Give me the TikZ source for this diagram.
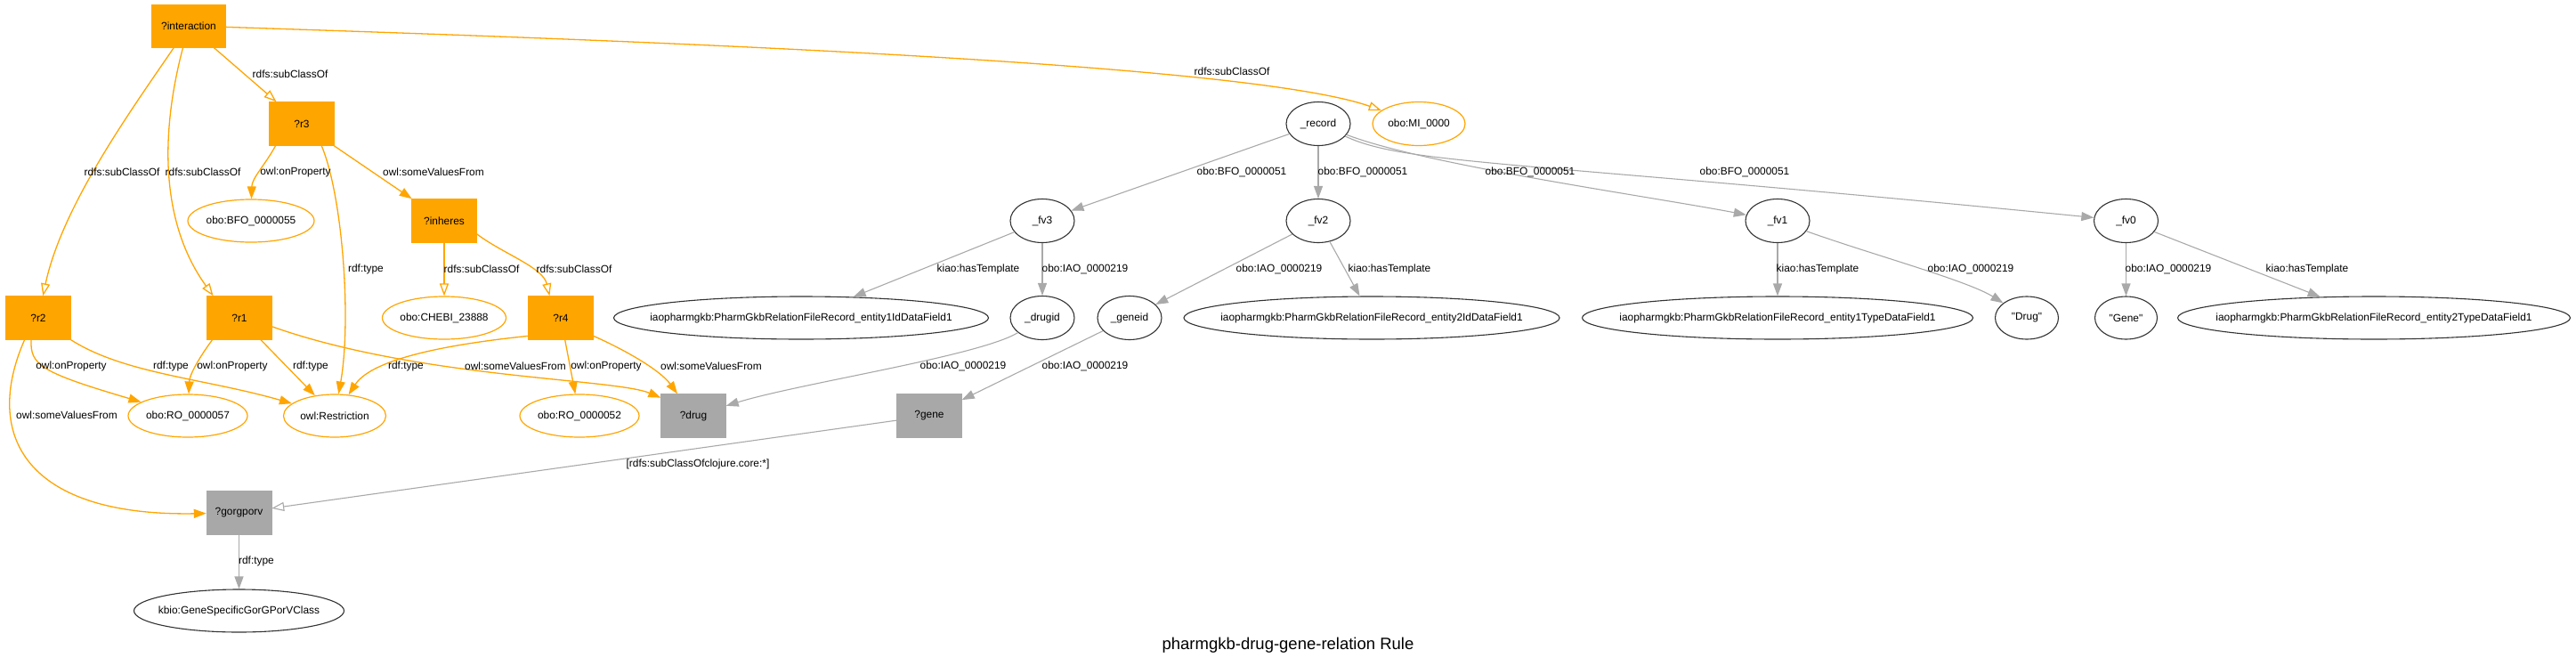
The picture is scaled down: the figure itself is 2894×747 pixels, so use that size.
\documentclass[tikz,border=0pt]{standalone}
\usepackage{fontspec}
\newfontfamily\labfont{Liberation Sans}
\usetikzlibrary{shapes.geometric,arrows.meta}
\definecolor{orng}{HTML}{FFA500}
\definecolor{dgray}{HTML}{A8A8A8}
\definecolor{egray}{HTML}{A9A9A9}
\begin{document}
\begin{tikzpicture}[x=1pt,y=-1pt,
  font={\labfont\fontsize{11.9}{14}\selectfont},
  obox/.style={rectangle,fill=orng,draw=orng,minimum width=73pt,minimum height=49pt,inner sep=0pt},
  gbox/.style={rectangle,fill=dgray,draw=dgray,minimum width=73pt,minimum height=49pt,inner sep=0pt},
  oell/.style={ellipse,draw=orng,line width=1.2pt,fill=white,inner sep=0pt,minimum height=48pt},
  bell/.style={ellipse,draw=black!80,line width=1.1pt,fill=white,inner sep=0pt,minimum height=48pt},
  elabel/.style={inner sep=0pt},
  oarr/.style={draw=orng,line width=1.3pt,-{Triangle[length=14pt,width=10pt]}},
  osub/.style={draw=orng,line width=1.3pt,-{Triangle[open,length=14pt,width=10pt,fill=white]}},
  garr/.style={draw=egray,line width=1.1pt,-{Triangle[length=14pt,width=10pt]}},
  gsub/.style={draw=egray,line width=1.1pt,-{Triangle[open,length=14pt,width=10pt,fill=white]}}
]
\useasboundingbox (0,0) rectangle (2894,747);

% orange boxes
\node[obox,minimum width=83pt,minimum height=48pt] (int) at (212,29) {?interaction};
\node[obox] (r3) at (339,139) {?r3};
\node[obox] (inh) at (499,248) {?inheres};
\node[obox] (r2) at (43,357) {?r2};
\node[obox] (r1) at (269,357) {?r1};
\node[obox] (r4) at (630,357) {?r4};
% gray boxes
\node[gbox] (drug) at (779,467) {?drug};
\node[gbox] (gene) at (1044,467) {?gene};
\node[gbox] (gorg) at (268.5,576) {?gorgporv};
% orange ellipses
\node[oell,minimum width=142pt] (bfo55) at (282,248) {\makebox[0pt]{obo:BFO\_0000055}};
\node[oell,minimum width=139pt] (chebi) at (499,357) {\makebox[0pt]{obo:CHEBI\_23888}};
\node[oell,minimum width=134pt] (ro57) at (211,467) {\makebox[0pt]{obo:RO\_0000057}};
\node[oell,minimum width=115pt] (restr) at (376,467) {\makebox[0pt]{owl:Restriction}};
\node[oell,minimum width=134pt] (ro52) at (651,467) {\makebox[0pt]{obo:RO\_0000052}};
\node[oell,minimum width=104pt,minimum height=49pt] (mi) at (1594,139) {\makebox[0pt]{obo:MI\_0000}};
% black ellipses
\node[bell,minimum width=236pt] (kbio) at (268.5,686) {\makebox[0pt]{kbio:GeneSpecificGorGPorVClass}};
\node[bell,minimum width=72pt,minimum height=49pt] (record) at (1481,139) {\makebox[0pt]{\_record}};
\node[bell,minimum width=72pt,minimum height=49pt] (fv3) at (1171,248) {\makebox[0pt]{\_fv3}};
\node[bell,minimum width=72pt,minimum height=49pt] (fv2) at (1481,248) {\makebox[0pt]{\_fv2}};
\node[bell,minimum width=72pt,minimum height=49pt] (fv1) at (1997,248) {\makebox[0pt]{\_fv1}};
\node[bell,minimum width=72pt,minimum height=49pt] (fv0) at (2388.5,248) {\makebox[0pt]{\_fv0}};
\node[bell,minimum width=421pt] (e1id) at (900,357) {\makebox[0pt]{iaopharmgkb:PharmGkbRelationFileRecord\_entity1IdDataField1}};
\node[bell,minimum width=72pt,minimum height=49pt] (drugid) at (1171,357) {\makebox[0pt]{\_drugid}};
\node[bell,minimum width=72pt,minimum height=49pt] (geneid) at (1269,357) {\makebox[0pt]{\_geneid}};
\node[bell,minimum width=422pt] (e2id) at (1541,357) {\makebox[0pt]{iaopharmgkb:PharmGkbRelationFileRecord\_entity2IdDataField1}};
\node[bell,minimum width=439pt] (e1type) at (1997,357) {\makebox[0pt]{iaopharmgkb:PharmGkbRelationFileRecord\_entity1TypeDataField1}};
\node[bell,minimum width=71pt] (drugq) at (2277,357) {\makebox[0pt]{"Drug"}};
\node[bell,minimum width=70pt] (geneq) at (2388.5,357) {\makebox[0pt]{"Gene"}};
\node[bell,minimum width=441pt] (e2type) at (2667,357) {\makebox[0pt]{iaopharmgkb:PharmGkbRelationFileRecord\_entity2TypeDataField1}};

% title
\node[inner sep=0pt,font={\labfont\fontsize{18.5}{22}\selectfont}] (title) at (1447,725) {pharmgkb-drug-gene-relation Rule};

% orange edges
\draw[osub] (int) .. controls (700,45) and (1400,70) .. (mi);
\draw[osub] (int) -- (r3);
\draw[osub] (int) .. controls (150,120) and (70,230) .. (r2);
\draw[osub] (int) .. controls (180,150) and (180,250) .. (r1.140);
\draw[oarr] (r3.220) .. controls (298,185) and (283,200) .. (bfo55);
\draw[oarr] (r3.312) .. controls (385,220) and (395,360) .. (restr);
\draw[oarr] (r3) -- (inh);
\draw[osub] (inh) -- (chebi);
\draw[osub] (inh.-22) .. controls (565,285) and (610,300) .. (r4.117);
\draw[oarr] (r2.252) .. controls (34,410) and (45,418) .. (ro57);
\draw[oarr] (r2.south east) .. controls (140,420) and (230,425) .. (restr);
\draw[oarr] (r2.238) .. controls (-20,490) and (30,580) .. (gorg);
\draw[oarr] (r1.219) .. controls (225,400) and (213,420) .. (ro57);
\draw[oarr] (r1) -- (restr);
\draw[oarr] (r1.-15) .. controls (470,425) and (690,425) .. (drug.151);
\draw[oarr] (r4.209) .. controls (520,385) and (420,400) .. (restr);
\draw[oarr] (r4) -- (ro52);
\draw[oarr] (r4.-29) .. controls (700,392) and (741,415) .. (drug.126);

% gray edges
\draw[garr] (record) -- (fv3);
\draw[garr] (record) -- (fv2);
\draw[garr] (record) .. controls (1600,185) and (1850,220) .. (fv1);
\draw[garr] (record) .. controls (1580,185) and (1700,180) .. (fv0);
\draw[garr] (fv3) -- (e1id);
\draw[garr] (fv3) -- (drugid);
\draw[garr] (fv2) -- (geneid);
\draw[garr] (fv2) -- (e2id);
\draw[garr] (drugid) .. controls (1100,400) and (900,430) .. (drug);
\draw[garr] (geneid) -- (gene);
\draw[gsub] (gene) -- (gorg);
\draw[garr] (gorg) -- (kbio);
\draw[garr] (fv1) -- (e1type);
\draw[garr] (fv1) .. controls (2100,285) and (2210,315) .. (drugq);
\draw[garr] (fv0) -- (geneq);
\draw[garr] (fv0) -- (e2type);

% edge labels
\node[elabel] (l1) at (1384,80) {rdfs:subClassOf};
\node[elabel] (l2) at (326,83) {rdfs:subClassOf};
\node[elabel] (l3) at (137,193) {rdfs:subClassOf};
\node[elabel] (l4) at (228,193) {rdfs:subClassOf};
\node[elabel] (l5) at (332,193) {owl:onProperty};
\node[elabel] (l6) at (411,302) {rdf:type};
\node[elabel] (l7) at (487,193) {owl:someValuesFrom};
\node[elabel] (l8) at (541,302) {rdfs:subClassOf};
\node[elabel] (l9) at (645,302) {rdfs:subClassOf};
\node[elabel] (l10) at (80,411) {owl:onProperty};
\node[elabel] (l11) at (192,411) {rdf:type};
\node[elabel] (l12) at (75,466) {owl:someValuesFrom};
\node[elabel] (l13) at (261,411) {owl:onProperty};
\node[elabel] (l14) at (349,411) {rdf:type};
\node[elabel] (l15) at (579,411) {owl:someValuesFrom};
\node[elabel] (l16) at (456,411) {rdf:type};
\node[elabel] (l17) at (681,411) {owl:onProperty};
\node[elabel] (l18) at (799,411) {owl:someValuesFrom};
\node[elabel] (l19) at (1395,193) {obo:BFO\_0000051};
\node[elabel] (l20) at (1531,193) {obo:BFO\_0000051};
\node[elabel] (l21) at (1719,193) {obo:BFO\_0000051};
\node[elabel] (l22) at (1960,193) {obo:BFO\_0000051};
\node[elabel] (l23) at (1099,302) {kiao:hasTemplate};
\node[elabel] (l24) at (1219,302) {obo:IAO\_0000219};
\node[elabel] (l25) at (1437,302) {obo:IAO\_0000219};
\node[elabel] (l26) at (1561,302) {kiao:hasTemplate};
\node[elabel] (l27) at (1082,411) {obo:IAO\_0000219};
\node[elabel] (l28) at (1219,411) {obo:IAO\_0000219};
\node[elabel] (l29) at (784,521) {[rdfs:subClassOfclojure.core:*]};
\node[elabel] (l30) at (288,630) {rdf:type};
\node[elabel] (l31) at (2042,302) {kiao:hasTemplate};
\node[elabel] (l32) at (2214,302) {obo:IAO\_0000219};
\node[elabel] (l33) at (2436,302) {obo:IAO\_0000219};
\node[elabel] (l34) at (2592,302) {kiao:hasTemplate};
\end{tikzpicture}
\end{document}
